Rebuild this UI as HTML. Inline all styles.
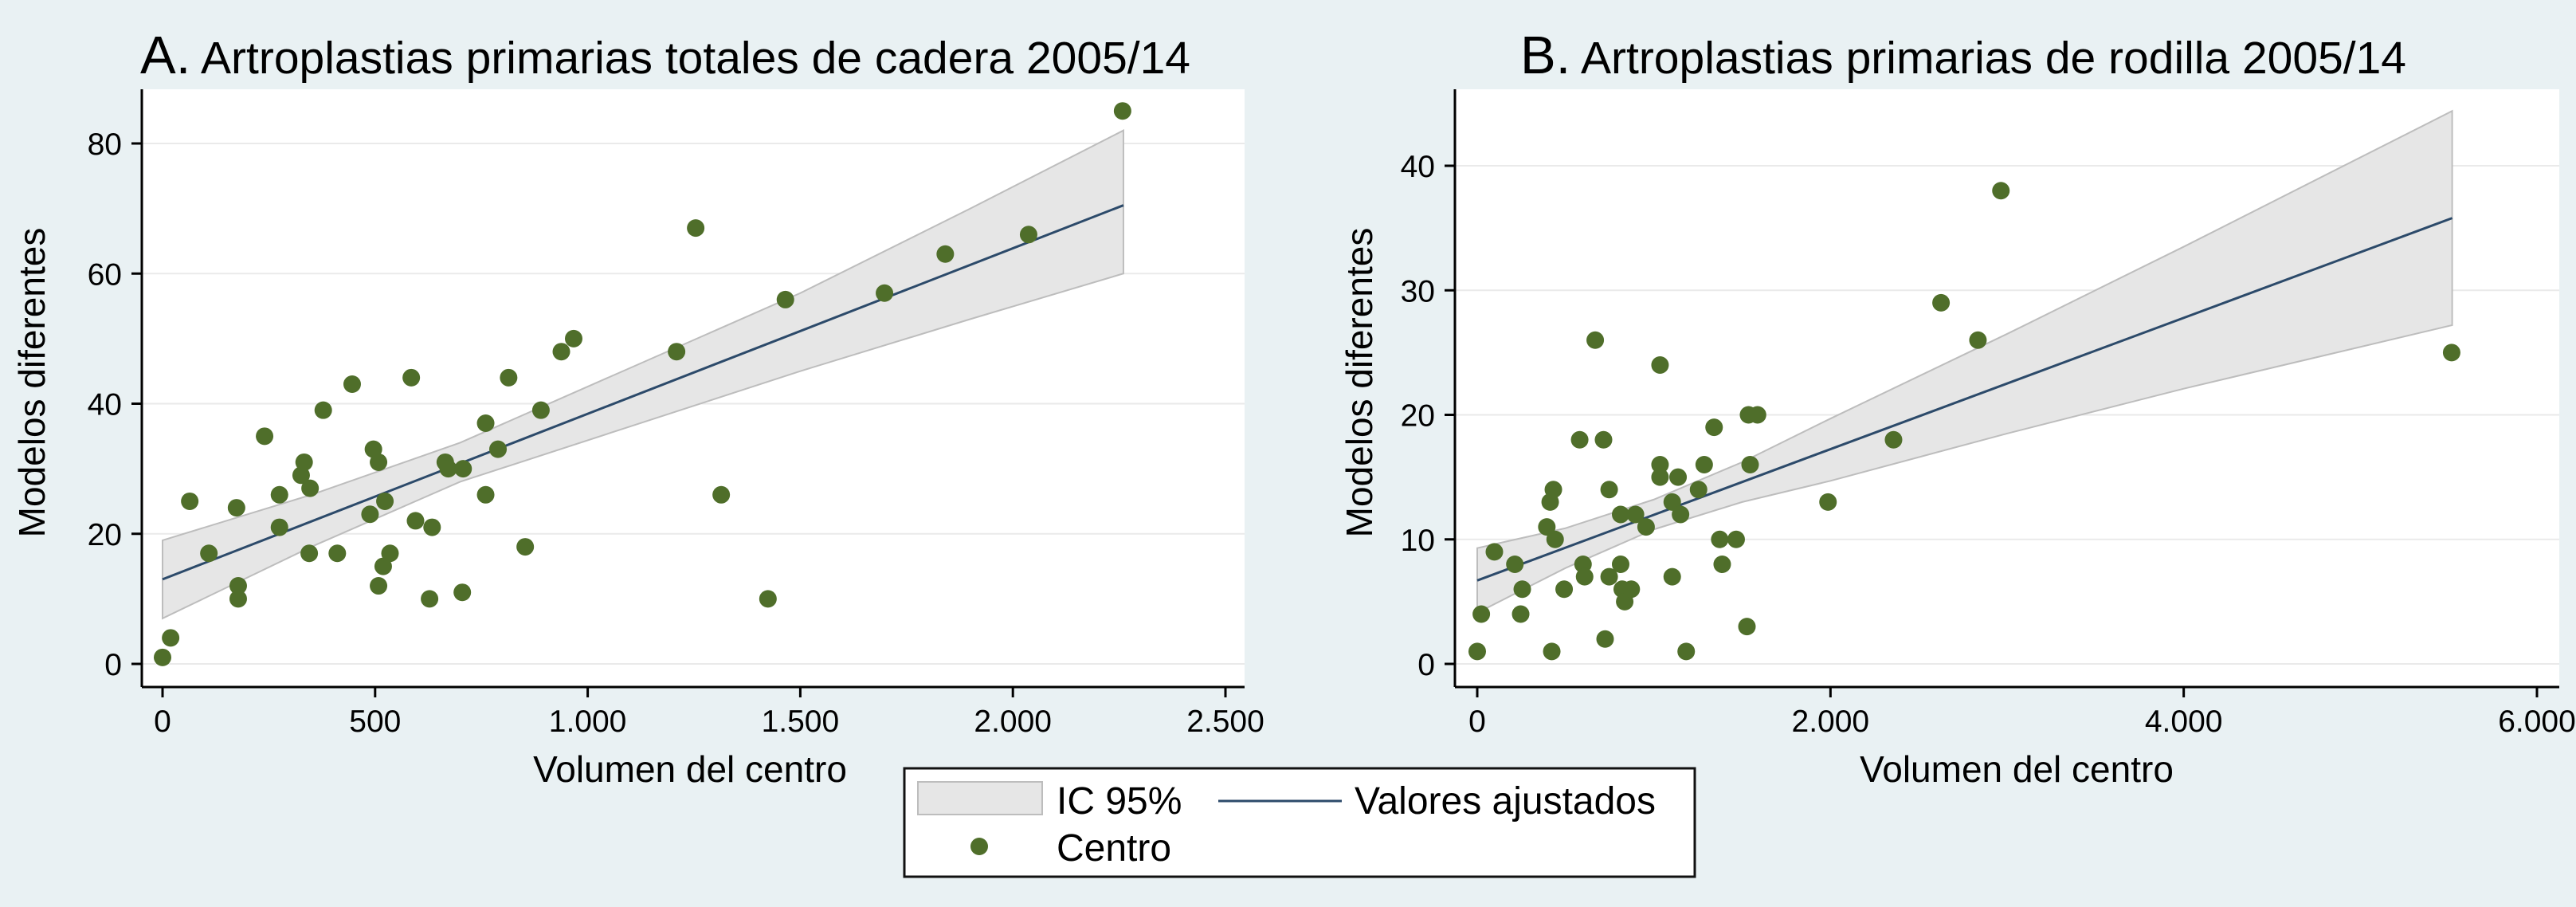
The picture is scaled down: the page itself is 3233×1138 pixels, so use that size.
<!DOCTYPE html>
<html><head><meta charset="utf-8"><style>
html,body{margin:0;padding:0;background:#e9f1f3;}
svg{display:block;font-family:"Liberation Sans",sans-serif;}
</style></head><body>
<svg id="root" width="3233" height="1138" viewBox="0 0 3233 1138" xmlns="http://www.w3.org/2000/svg">
<rect width="3233" height="1138" fill="#e9f1f3"/>
<g id="chartA"></g>
<g id="chartB"></g>
<g>
  <rect x="1135" y="964" width="992" height="136" fill="#fff" stroke="#111" stroke-width="3"/>
  <rect x="1152" y="981" width="156" height="41" fill="#e6e6e6" stroke="#bdbdbd" stroke-width="2"/>
  <text x="1326" y="1021" font-size="48" fill="#000">IC 95%</text>
  <line x1="1529" y1="1005" x2="1684" y2="1005" stroke="#2c4a6a" stroke-width="3"/>
  <text x="1700" y="1021" font-size="48" fill="#000">Valores ajustados</text>
  <circle cx="1229" cy="1062" r="11" fill="#4f6e2a"/>
  <text x="1326" y="1080" font-size="48" fill="#000">Centro</text>
</g>
</svg>
<script>
// ---- Chart A data ----
const aX = [0,19,64,109,174,178,178,240,275,275,326,333,347,345,378,411,446,488,496,508,508,519,523,535,585,595,628,634,665,672,707,705,760,760,789,814,853,890,938,967,1209,1254,1314,1424,1465,1698,1841,2037,2258];
const aY = [1,4,25,17,24,12,10,35,26,21,29,31,27,17,39,17,43,23,33,31,12,15,25,17,44,22,10,21,31,30,30,11,37,26,33,44,18,39,48,50,48,67,26,10,56,57,63,66,85];
const aFitX = [0,2260];
const aFitY = [13,70.5];
const aCiX = [0,350,700,1100,1500,1900,2260];
const aCiLo = [7,18,28,36.5,45,53,60];
const aCiHi = [19,26,34,45.5,57,70,82];
const aXTicks = [0,500,1000,1500,2000,2500];
const aXTickLabels = ["0","500","1.000","1.500","2.000","2.500"];
const aYTicks = [0,20,40,60,80];
// ---- Chart B data ----
const bX = [0,23,97,213,255,246,394,413,431,441,422,492,580,599,608,668,715,724,747,747,812,812,821,835,872,896,956,1035,1035,1035,1104,1104,1137,1151,1183,1253,1285,1341,1373,1387,1466,1527,1536,1545,1587,1986,2357,2626,2835,2965,5517];
const bY = [1,4,9,8,6,4,11,13,14,10,1,6,18,8,7,26,18,2,7,14,12,8,6,5,6,12,11,24,16,15,13,7,15,12,1,14,16,19,10,8,10,3,20,16,20,13,18,29,26,38,25];
const bFitX = [0,5520];
const bFitY = [6.7,35.8];
const bCiX = [0,500,1000,1500,2000,3000,4000,5520];
const bCiLo = [4.1,7.7,10.8,13,14.7,18.5,22.1,27.2];
const bCiHi = [9.3,10.9,13.2,16.2,19.7,26.5,33.5,44.4];
const bXTicks = [0,2000,4000,6000];
const bXTickLabels = ["0","2.000","4.000","6.000"];
const bYTicks = [0,10,20,30,40];

const NS = "http://www.w3.org/2000/svg";
function mk(parent, tag, attrs, text){
  const e = document.createElementNS(NS, tag);
  for (const k in attrs) e.setAttribute(k, attrs[k]);
  if (text !== undefined) e.textContent = text;
  parent.appendChild(e);
  return e;
}
function drawChart(g, cfg){
  const sx = v => cfg.x0 + (v - cfg.xmin) / (cfg.xmax - cfg.xmin) * (cfg.x1 - cfg.x0);
  const sy = v => cfg.y0 - (v - cfg.ymin) / (cfg.ymax - cfg.ymin) * (cfg.y0 - cfg.y1);
  const pa = mk(g, 'rect', {x: cfg.pl, y: cfg.pt, width: cfg.pr - cfg.pl, height: cfg.pb - cfg.pt, fill: '#fff'});
  
  
  cfg.yTicks.forEach(t => {
    const gl = mk(g, 'line', {x1: cfg.pl, x2: cfg.pr, y1: sy(t), y2: sy(t), stroke: '#eaeaea', 'stroke-width': 2});
    
    
  });
  let d = '';
  cfg.ciX.forEach((x, i) => { d += (i ? 'L' : 'M') + sx(x) + ',' + sy(cfg.ciHi[i]); });
  for (let i = cfg.ciX.length - 1; i >= 0; i--) d += 'L' + sx(cfg.ciX[i]) + ',' + sy(cfg.ciLo[i]);
  d += 'Z';
  const band = mk(g, 'path', {d: d, fill: '#e6e6e6', stroke: '#bdbdbd', 'stroke-width': 2});
  
  
  const fit = mk(g, 'line', {x1: sx(cfg.fitX[0]), y1: sy(cfg.fitY[0]), x2: sx(cfg.fitX[1]), y2: sy(cfg.fitY[1]), stroke: '#2c4a6a', 'stroke-width': 3});
  
  
  cfg.px.forEach((x, i) => {
    const c = mk(g, 'circle', {cx: sx(x), cy: sy(cfg.py[i]), r: 11, fill: '#4f6e2a'});
    
    
  });
  const ya = mk(g, 'line', {x1: cfg.pl, x2: cfg.pl, y1: cfg.pt, y2: cfg.pb, stroke: '#000', 'stroke-width': 3});
  
  
  const xa = mk(g, 'line', {x1: cfg.pl, x2: cfg.pr, y1: cfg.pb, y2: cfg.pb, stroke: '#000', 'stroke-width': 3});
  
  
  cfg.yTicks.forEach(t => {
    const tk = mk(g, 'line', {x1: cfg.pl - 13, x2: cfg.pl, y1: sy(t), y2: sy(t), stroke: '#000', 'stroke-width': 3});
    
    
    const tl = mk(g, 'text', {x: cfg.pl - 25, y: sy(t) + 14, 'font-size': 39, 'text-anchor': 'end'}, String(t));
    
    
  });
  cfg.xTicks.forEach((t, i) => {
    const tk = mk(g, 'line', {x1: sx(t), x2: sx(t), y1: cfg.pb, y2: cfg.pb + 13, stroke: '#000', 'stroke-width': 3});
    
    
    const tl = mk(g, 'text', {x: sx(t), y: cfg.pb + 56, 'font-size': 39, 'text-anchor': 'middle'}, cfg.xTickLabels[i]);
    
    
  });
  const xt = mk(g, 'text', {x: cfg.xtX, y: 981, 'font-size': 46, 'text-anchor': 'middle'}, 'Volumen del centro');
  
  
  const yt = mk(g, 'text', {x: 0, y: 0, 'font-size': 46, 'text-anchor': 'middle', transform: 'translate(' + cfg.ytX + ',' + cfg.ytY + ') rotate(-90)'}, 'Modelos diferentes');
  
  
  const tt = mk(g, 'text', {x: cfg.titleX, y: 92, 'text-anchor': cfg.titleAnchor});
  
  
  mk(tt, 'tspan', {'font-size': 67}, cfg.letter);
  mk(tt, 'tspan', {'font-size': 57}, ' ' + cfg.title);
}
drawChart(document.getElementById('chartA'), {
  pl: 178, pr: 1562, pt: 112, pb: 862,
  x0: 204, x1: 1538, xmin: 0, xmax: 2500,
  y0: 833, y1: 180, ymin: 0, ymax: 80,
  px: aX, py: aY, fitX: aFitX, fitY: aFitY, ciX: aCiX, ciLo: aCiLo, ciHi: aCiHi,
  xTicks: aXTicks, xTickLabels: aXTickLabels, yTicks: aYTicks,
  xtX: 866, ytX: 56, ytY: 480, titleX: 176, titleAnchor: 'start',
  letter: 'A.', title: 'Artroplastias primarias totales de cadera 2005/14'
});
drawChart(document.getElementById('chartB'), {
  pl: 1826, pr: 3212, pt: 112, pb: 862,
  x0: 1854, x1: 3184, xmin: 0, xmax: 6000,
  y0: 833, y1: 208, ymin: 0, ymax: 40,
  px: bX, py: bY, fitX: bFitX, fitY: bFitY, ciX: bCiX, ciLo: bCiLo, ciHi: bCiHi,
  xTicks: bXTicks, xTickLabels: bXTickLabels, yTicks: bYTicks,
  xtX: 2531, ytX: 1722, ytY: 480, titleX: 2464, titleAnchor: 'middle',
  letter: 'B.', title: 'Artroplastias primarias de rodilla 2005/14'
});
</script>
</body></html>
